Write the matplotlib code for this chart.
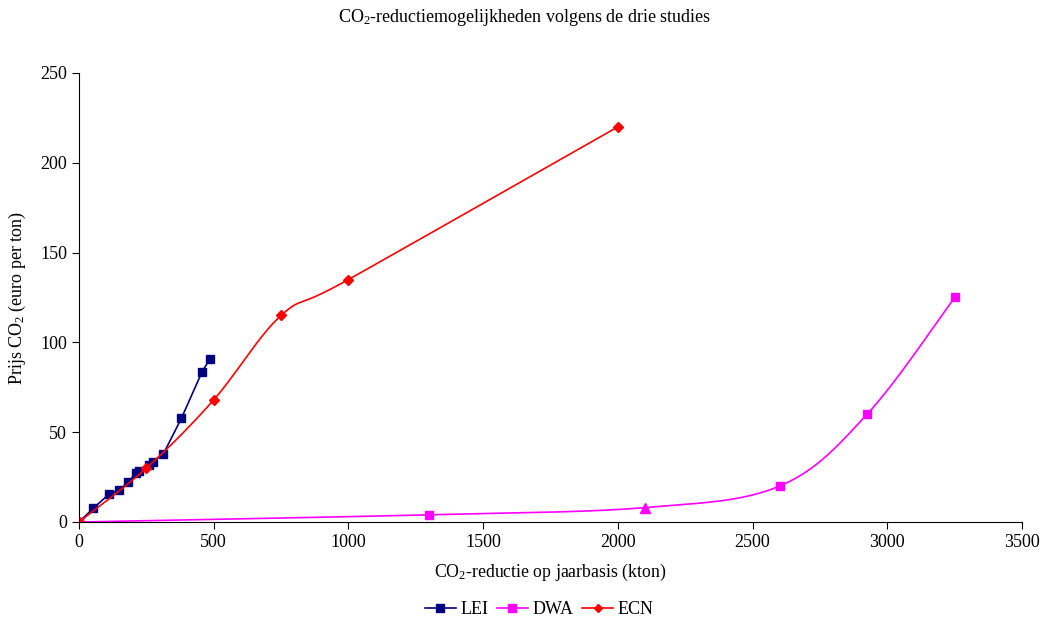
import numpy as np
import matplotlib
matplotlib.use("Agg")
import matplotlib.pyplot as plt

plt.rcParams['font.family'] = ['Liberation Serif', 'DejaVu Serif']
plt.rcParams['mathtext.fontset'] = 'custom'
plt.rcParams['mathtext.rm'] = 'Liberation Serif'
plt.rcParams['mathtext.it'] = 'Liberation Serif:italic'

# data (kton, euro per ton)
lei_x = [0, 53, 112, 150, 181, 211, 224, 259, 273, 313, 380, 457, 486]
lei_y = [0, 7.6, 15.6, 17.8, 22, 27, 28.6, 31.7, 33.6, 37.9, 57.7, 83.7, 90.8]

dwa_x = [0, 1300, 2100, 2600, 2925, 3250]
dwa_y = [0, 4, 8, 20, 60, 125]

ecn_x = [0, 250, 500, 750, 1000, 2000]
ecn_y = [0, 30, 68, 115, 135, 220]


def smooth(xs, ys, n=40):
    # Excel-achtige gladde lijn (bezier met catmull-rom controlepunten)
    p = np.column_stack([xs, ys]).astype(float)
    out = [p[0]]
    for i in range(len(p) - 1):
        p0 = p[i - 1] if i > 0 else p[i]
        p1 = p[i]
        p2 = p[i + 1]
        p3 = p[i + 2] if i + 2 < len(p) else p[i + 1]
        c1 = p1 + (p2 - p0) / 6
        c2 = p2 - (p3 - p1) / 6
        t = np.linspace(0, 1, n)[1:, None]
        seg = (1 - t) ** 3 * p1 + 3 * (1 - t) ** 2 * t * c1 + 3 * (1 - t) * t ** 2 * c2 + t ** 3 * p2
        out.extend(seg)
    out = np.array(out)
    return out[:, 0], out[:, 1]


fig = plt.figure(figsize=(10.49, 6.28), dpi=100)
ax = fig.add_axes([0.0753, 0.1688, 0.899, 0.715])

ax.plot(lei_x, lei_y, color='#000080', lw=1.2, marker='s', ms=6, label='LEI')

sx, sy = smooth(dwa_x, dwa_y)
ax.plot(sx, sy, color='#FF00FF', lw=1.2)
ax.plot([dwa_x[i] for i in [0, 1, 3, 4, 5]], [dwa_y[i] for i in [0, 1, 3, 4, 5]],
        ls='none', marker='s', ms=5.8, color='#FF00FF')
ax.plot([dwa_x[2]], [dwa_y[2]], ls='none', marker='^', ms=6.5, color='#FF00FF')

sx, sy = smooth(ecn_x, ecn_y)
ax.plot(sx, sy, color='#FF0000', lw=1.2)
ax.plot(ecn_x, ecn_y, ls='none', marker='D', ms=5, color='#FF0000')

# legend handles
ax.plot([], [], color='#FF00FF', lw=1.2, marker='s', ms=5.8, label='DWA')
ax.plot([], [], color='#FF0000', lw=1.2, marker='D', ms=5, label='ECN')

ax.set_xlim(0, 3500)
ax.set_ylim(0, 250)
ax.set_xticks(range(0, 3501, 500))
ax.set_yticks(range(0, 251, 50))
ax.spines['top'].set_visible(False)
ax.spines['right'].set_visible(False)
ax.tick_params(labelsize=13, direction='out', length=5)
ax.set_xlabel('CO$_2$-reductie op jaarbasis (kton)', fontsize=12.8, labelpad=8)
ax.set_ylabel('Prijs CO$_2$ (euro per ton)', fontsize=13, labelpad=9)
fig.text(0.5, 0.972, 'CO$_2$-reductiemogelijkheden volgens de drie studies',
         ha='center', va='center', fontsize=13)

handles, labels = ax.get_legend_handles_labels()
fig.legend(handles, labels, loc='center', bbox_to_anchor=(0.514, 0.029), ncol=3,
           frameon=False, fontsize=13, handlelength=1.7, columnspacing=0.5,
           handletextpad=0.25, markerscale=0.9)

fig.savefig('out.png', dpi=100)
